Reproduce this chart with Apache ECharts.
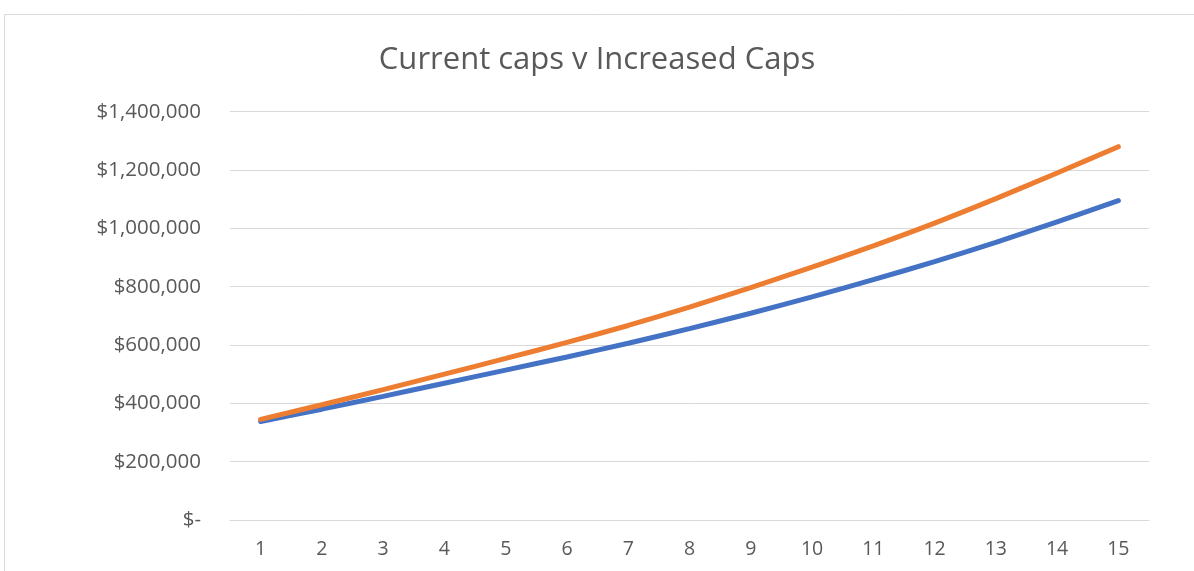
<!DOCTYPE html>
<html>
<head>
<meta charset="utf-8">
<script src="https://cdn.jsdelivr.net/npm/echarts@6/dist/echarts.min.js"></script>
<style>
  html, body { margin: 0; padding: 0; background: #fff; }
  #chart { width: 1194px; height: 571px; }
</style>
</head>
<body>
<div id="chart"></div>
<script>
// years along the bottom
const years = ['1', '2', '3', '4', '5', '6', '7', '8', '9', '10', '11', '12', '13', '14', '15'];

const currentCaps = [338000, 380000, 424000, 469000, 514000, 559000, 606000, 656000, 709000, 765000, 824000, 886000, 952000, 1022000, 1095000];
const increasedCaps = [345000, 395000, 447000, 500000, 554000, 609000, 667000, 730000, 797000, 867000, 940000, 1018000, 1102000, 1190000, 1280000];

const titleText = 'Current caps v Increased Caps';
const txtColor = '#595959';
const fontName = '"Open Sans", "Liberation Sans", sans-serif';

function money(v) {
    if (v === 0) return '$-';
    return '$' + v.toLocaleString('en-US');
}

let chart = echarts.init(document.getElementById('chart'));

let option = {
    animation: false,
    backgroundColor: '#fff',
    graphic: [{
        type: 'rect',
        shape: { x: 4.5, y: 14.5, width: 1220, height: 620 },
        style: { fill: null, stroke: '#d9d9d9', lineWidth: 1 },
        silent: true
    }],
    title: {
        text: titleText,
        left: 'center',
        top: 40,
        textStyle: { color: txtColor, fontSize: 31, fontWeight: 'normal', fontFamily: fontName }
    },
    grid: { left: 230, right: 45, top: 111.7, bottom: 51 },
    xAxis: {
        type: 'category',
        data: years,
        boundaryGap: true,
        axisLine: { show: true, lineStyle: { color: '#d9d9d9', width: 1 } },
        axisTick: { show: false },
        axisLabel: { color: txtColor, fontSize: 19.5, fontFamily: fontName, margin: 19 }
    },
    yAxis: {
        type: 'value',
        min: 0,
        max: 1400000,
        interval: 200000,
        axisLine: { show: false },
        axisTick: { show: false },
        splitLine: { lineStyle: { color: '#d9d9d9', width: 1 } },
        axisLabel: { color: txtColor, fontSize: 20.5, fontFamily: fontName, margin: 29, formatter: money }
    },
    series: [
        {
            name: 'Current caps',
            type: 'line',
            data: currentCaps,
            smooth: 0.25,
            symbol: 'none',
            lineStyle: { color: '#4472C4', width: 5, cap: 'round' },
            itemStyle: { color: '#4472C4' }
        },
        {
            name: 'Increased Caps',
            type: 'line',
            data: increasedCaps,
            smooth: 0.25,
            symbol: 'none',
            lineStyle: { color: '#ED7D31', width: 5, cap: 'round' },
            itemStyle: { color: '#ED7D31' }
        }
    ]
};

chart.setOption(option);
</script>
</body>
</html>
